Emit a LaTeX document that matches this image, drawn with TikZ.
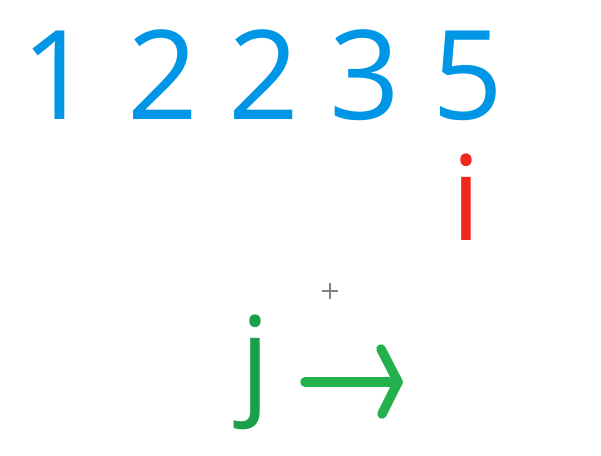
\documentclass[tikz,border=0pt]{standalone}
\usepackage{fontspec}
\setmainfont{Open Sans}
\definecolor{numblue}{RGB}{0,150,230}
\definecolor{ired}{RGB}{240,40,30}
\definecolor{jgreen}{RGB}{26,160,74}
\definecolor{argreen}{RGB}{34,177,76}
\begin{document}
\begin{tikzpicture}[x=1pt,y=-1pt,
  digit/.style={inner sep=0,anchor=base,text=numblue,font=\fontsize{124}{126}\selectfont},
  letter/.style={inner sep=0,anchor=base,font=\fontsize{118}{120}\selectfont}]
\useasboundingbox[fill=white] (0,0) rectangle (601,455);
\node[digit] (d1) at (57,119) {1};
\node[digit] (d2) at (163,119) {2};
\node[digit] (d3) at (264,119) {2};
\node[digit] (d4) at (365,119) {3};
\node[digit] (d5) at (468,119) {5};
\node[letter,text=ired] (i) at (466.5,240) {i};
\node[letter,text=jgreen] (j) at (255,401) {j};
\coordinate (as) at (305,382);
\coordinate (at) at (398,382);
\coordinate (au) at (381,349);
\coordinate (al) at (382,414);
\draw[argreen,line width=9.5pt,line cap=round,line join=round] (as) -- (at);
\draw[argreen,line width=9.5pt,line cap=round,line join=round] (au) -- (at) -- (al);
\coordinate (cc) at (330,291);
\draw[gray,line width=1.5pt] ([xshift=-8pt]cc) -- ([xshift=8pt]cc) ([yshift=-8pt]cc) -- ([yshift=8pt]cc);
\end{tikzpicture}
\end{document}
